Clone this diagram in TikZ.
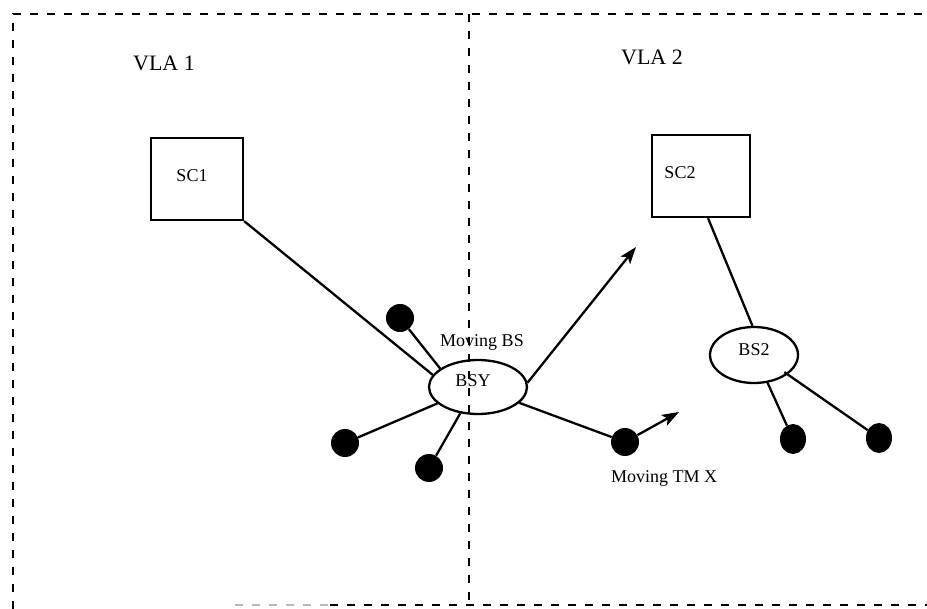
\documentclass[tikz,border=0pt]{standalone}
\usepackage{fontspec}
\setmainfont{Liberation Serif}
\usetikzlibrary{shapes.geometric,arrows.meta,calc}
\begin{document}
\begin{tikzpicture}[x=1pt,y=-1pt,
  frame/.style={line width=2.3pt,dash pattern=on 8pt off 9pt},
  link/.style={line width=2.3pt},
  move/.style={link,-{Stealth[length=17pt,width=12pt,inset=4pt]}},
  ctrl/.style={draw,line width=2.3pt,rectangle,inner sep=0pt},
  base/.style={draw,line width=2.3pt,ellipse,inner sep=0pt},
  term/.style={circle,fill=black,inner sep=0pt,minimum size=28pt},
  termv/.style={ellipse,fill=black,inner sep=0pt,minimum width=26pt,minimum height=30pt},
  lbl/.style={font=\fontsize{18}{20}\selectfont,inner sep=0pt},
  title/.style={font=\fontsize{22}{24}\selectfont,inner sep=0pt}]
\useasboundingbox (0,0) rectangle (927,609);

% area borders
\draw[frame] (13,609) -- (13,14) -- (927,14);
\draw[frame] (469,14) -- (469,605);
\draw[frame,gray!55] (235,605) -- (330,605);
\draw[frame] (330,605) -- (927,605);

% area titles
\node[title] (vla1) at (164,63) {VLA 1};
\node[title] (vla2) at (652,57) {VLA 2};

% switching centres
\node[ctrl,minimum width=92pt,minimum height=82pt,
      label={[lbl,xshift=-5pt,yshift=3pt]center:SC1}] (sc1) at (197,179) {};
\node[ctrl,minimum width=98pt,minimum height=82pt,
      label={[lbl,xshift=-21pt,yshift=3pt]center:SC2}] (sc2) at (701,176) {};

% base stations
\node[base,minimum width=98pt,minimum height=54pt,
      label={[lbl,xshift=-5pt,yshift=6pt]center:BSY}] (bsy) at (478,387) {};
\node[base,minimum width=88pt,minimum height=56pt,
      label={[lbl,yshift=5pt]center:BS2}] (bs2) at (754,355) {};

\node[lbl] (movbs) at (482,342) {Moving BS};
\node[lbl] (movtm) at (664,478) {Moving TM X};

% terminals
\node[term] (ta) at (400,318) {};
\node[term] (tb) at (345,443) {};
\node[term] (tc) at (429,468) {};
\node[term] (td) at (625,442) {};
\node[termv] (te) at (793,439) {};
\node[termv] (tf) at (879,438) {};

% movement targets
\coordinate (bsgo) at (636,247);
\coordinate (tmgo) at (679,412);

% links
\draw[link] (sc1.south east) -- (bsy.165);
\draw[link] ($(sc2.south west)!0.57!(sc2.south east)$) -- (bs2.93);
\draw[link] (ta) -- (bsy.154);
\draw[link] (tb) -- (bsy.202);
\draw[link] (tc) -- (bsy.236);
\draw[link] (bsy.339) -- (td);
\draw[link] (bs2.296) -- (te);
\draw[link,shorten <=-4pt] (bs2.330) -- (tf);

% movement arrows
\draw[move] (bsy.5) -- (bsgo);
\draw[move] (td) -- (tmgo);
\end{tikzpicture}
\end{document}
